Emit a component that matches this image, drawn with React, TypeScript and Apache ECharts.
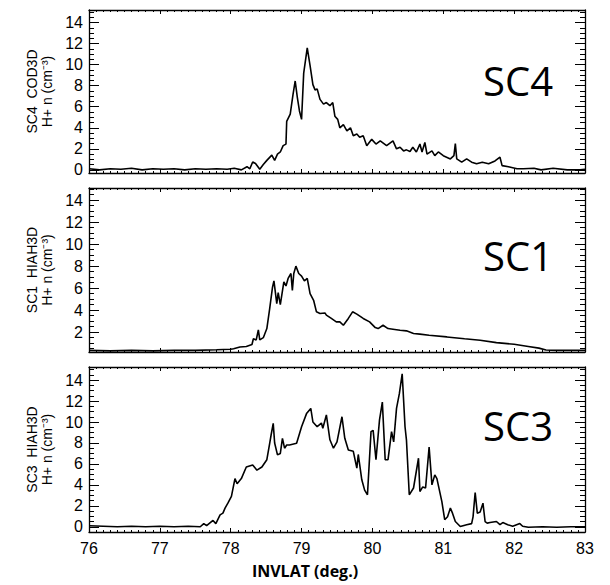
import React, { useEffect, useRef } from "react";
import * as echarts from "echarts";

// ---- data ----
const xTicks = [76, 77, 78, 79, 80, 81, 82, 83];

const sc4Lat = [76.0, 76.15, 76.3, 76.45, 76.6, 76.75, 76.9, 77.05, 77.2, 77.35, 77.5, 77.65, 77.8, 77.95, 78.05, 78.15, 78.23, 78.27, 78.31, 78.35, 78.41, 78.46, 78.51, 78.58, 78.62, 78.66, 78.7, 78.74, 78.78, 78.79, 78.84, 78.88, 78.91, 78.94, 78.97, 79.0, 79.03, 79.08, 79.12, 79.16, 79.19, 79.22, 79.26, 79.31, 79.35, 79.4, 79.44, 79.47, 79.51, 79.54, 79.59, 79.64, 79.69, 79.73, 79.78, 79.82, 79.87, 79.92, 79.99, 80.05, 80.11, 80.2, 80.29, 80.34, 80.39, 80.44, 80.48, 80.53, 80.57, 80.62, 80.67, 80.7, 80.74, 80.77, 80.84, 80.88, 80.93, 81.0, 81.1, 81.15, 81.17, 81.19, 81.26, 81.33, 81.4, 81.47, 81.55, 81.64, 81.73, 81.8, 81.83, 81.92, 82.04, 82.13, 82.28, 82.38, 82.55, 82.75, 82.93, 83.0];
const sc4Dens = [0.1, 0.0, 0.1, 0.05, 0.15, 0.0, 0.1, 0.05, 0.1, 0.0, 0.1, 0.05, 0.1, 0.05, 0.15, 0.0, 0.3, 0.1, 0.75, 0.6, 0.05, 0.5, 0.9, 1.4, 0.9, 1.5, 1.7, 2.3, 2.45, 4.6, 5.3, 7.2, 8.45, 6.9, 5.6, 4.8, 9.2, 11.6, 9.9, 8.1, 7.6, 7.7, 6.7, 6.25, 6.4, 6.1, 6.4, 5.1, 4.8, 4.0, 4.3, 3.7, 4.0, 3.25, 3.4, 3.1, 3.25, 2.3, 2.9, 2.45, 2.75, 2.3, 2.75, 2.0, 2.15, 1.8, 1.9, 1.75, 2.15, 1.7, 2.45, 1.7, 2.6, 1.5, 1.8, 1.35, 1.7, 1.35, 1.04, 1.35, 2.5, 1.04, 0.73, 1.04, 0.73, 0.57, 0.73, 0.57, 0.85, 1.2, 0.4, 0.3, 0.1, 0.1, 0.15, 0.0, 0.15, 0.0, 0.0, 0.05];

const sc1Lat = [76.0, 76.3, 76.6, 76.9, 77.2, 77.5, 77.8, 78.0, 78.04, 78.13, 78.22, 78.3, 78.32, 78.36, 78.39, 78.41, 78.46, 78.51, 78.55, 78.59, 78.61, 78.65, 78.67, 78.7, 78.75, 78.78, 78.81, 78.85, 78.87, 78.89, 78.92, 78.96, 79.0, 79.04, 79.08, 79.12, 79.17, 79.21, 79.26, 79.33, 79.35, 79.42, 79.49, 79.54, 79.59, 79.66, 79.72, 79.78, 79.87, 79.96, 80.04, 80.08, 80.15, 80.22, 80.29, 80.39, 80.48, 80.58, 80.67, 80.8, 81.05, 81.3, 81.52, 81.75, 82.0, 82.2, 82.35, 82.45, 82.6, 82.8, 83.0];
const sc1Dens = [0.35, 0.3, 0.35, 0.3, 0.35, 0.35, 0.4, 0.45, 0.5, 0.66, 0.7, 0.88, 1.4, 1.3, 2.2, 1.3, 1.5, 2.33, 4.15, 6.1, 6.66, 4.6, 5.6, 4.5, 6.57, 6.2, 6.88, 7.33, 5.8, 7.33, 8.0, 7.33, 7.1, 6.66, 6.88, 5.5, 4.9, 3.85, 3.7, 3.75, 3.55, 3.25, 2.94, 2.94, 2.63, 3.25, 3.85, 3.64, 3.25, 2.94, 2.42, 2.33, 2.63, 2.33, 2.27, 2.18, 2.12, 1.88, 1.82, 1.72, 1.57, 1.4, 1.27, 1.05, 0.9, 0.7, 0.55, 0.38, 0.35, 0.35, 0.35];

const sc3Lat = [76.0, 76.2, 76.4, 76.6, 76.8, 77.0, 77.2, 77.4, 77.57, 77.62, 77.66, 77.75, 77.79, 77.85, 77.89, 77.92, 77.96, 78.01, 78.06, 78.09, 78.15, 78.22, 78.31, 78.37, 78.44, 78.51, 78.55, 78.57, 78.6, 78.62, 78.66, 78.7, 78.73, 78.76, 78.79, 78.83, 78.93, 79.0, 79.07, 79.13, 79.16, 79.22, 79.28, 79.3, 79.35, 79.4, 79.45, 79.5, 79.57, 79.61, 79.66, 79.73, 79.78, 79.8, 79.85, 79.89, 79.93, 79.98, 80.01, 80.05, 80.1, 80.14, 80.18, 80.22, 80.27, 80.3, 80.34, 80.38, 80.42, 80.46, 80.48, 80.52, 80.58, 80.65, 80.67, 80.71, 80.75, 80.8, 80.84, 80.88, 80.91, 80.98, 81.02, 81.06, 81.1, 81.13, 81.17, 81.24, 81.33, 81.4, 81.42, 81.45, 81.48, 81.52, 81.56, 81.59, 81.62, 81.66, 81.75, 81.8, 81.84, 81.91, 81.98, 82.08, 82.12, 82.2, 82.4, 82.6, 82.8, 83.0];
const sc3Dens = [0.1, 0.05, 0.0, 0.05, 0.0, 0.05, 0.0, 0.05, 0.0, 0.3, 0.1, 0.6, 0.3, 1.14, 1.3, 1.78, 2.25, 2.9, 4.6, 4.1, 4.6, 5.7, 5.9, 5.4, 5.7, 6.4, 7.97, 8.76, 9.87, 8.0, 6.86, 7.0, 8.44, 7.5, 7.8, 7.8, 7.97, 9.55, 10.8, 11.3, 10.0, 9.55, 9.9, 9.4, 10.67, 8.3, 7.5, 8.1, 10.5, 8.44, 7.33, 7.2, 5.6, 6.9, 4.48, 3.5, 3.05, 9.08, 9.2, 6.4, 10.2, 11.9, 6.4, 6.4, 9.08, 8.1, 11.3, 12.7, 14.6, 9.55, 8.3, 3.05, 3.7, 6.54, 3.36, 3.8, 3.7, 7.6, 4.0, 4.95, 4.6, 2.4, 0.67, 0.95, 1.78, 1.3, 0.5, 0.03, 0.2, 0.3, 0.95, 3.27, 1.3, 1.4, 2.25, 0.5, 0.35, 0.4, 0.5, 0.2, 0.4, 0.2, 0.05, 0.3, 0.05, -0.05, 0.0, -0.05, 0.0, 0.0];

const panelNames = ["SC4  COD3D\nH+ n (cm\u207B\u00B3)", "SC1  HIAH3D\nH+ n (cm\u207B\u00B3)", "SC3  HIAH3D\nH+ n (cm\u207B\u00B3)"];
const panelTags = ["SC4", "SC1", "SC3"];
const yMins = [-0.3, 0.2, -0.5];
const yMaxs = [15.2, 15.1, 15.25];
const xTitle = "INVLAT (deg.)";

const grids = [
  { top: 10, height: 163 },
  { top: 188, height: 164 },
  { top: 367, height: 165 },
];
const tagY = [86, 261, 431];

export default function App() {
  const ref = useRef<HTMLDivElement>(null);
  useEffect(() => {
    if (!ref.current) return;
    const chart = echarts.init(ref.current, undefined, { renderer: "svg" });
    const black = "#000";
    const xAxes: any[] = [];
    const yAxes: any[] = [];
    const series: any[] = [];
    const lats = [sc4Lat, sc1Lat, sc3Lat];
    const dens = [sc4Dens, sc1Dens, sc3Dens];
    for (let i = 0; i < 3; i++) {
      for (const pos of ["bottom", "top"]) {
        xAxes.push({
          type: "value",
          gridIndex: i,
          position: pos,
          min: xTicks[0],
          max: xTicks[xTicks.length - 1],
          interval: 1,
          axisLine: { show: true, onZero: false, lineStyle: { color: black, width: 1.3 } },
          axisTick: { show: true, inside: true, length: 4, lineStyle: { color: black, width: 1 } },
          minorTick: { show: true, splitNumber: 10, length: 2, lineStyle: { color: black, width: 1 } },
          splitLine: { show: false },
          axisLabel: {
            show: i === 2 && pos === "bottom",
            color: black,
            fontSize: 16,
            fontFamily: "Liberation Sans",
            margin: 8,
          },
        });
      }
      for (const pos of ["left", "right"]) {
        yAxes.push({
          type: "value",
          gridIndex: i,
          position: pos,
          min: yMins[i],
          max: yMaxs[i],
          splitNumber: 7,
          minInterval: 2,
          maxInterval: 2,
          axisLine: { show: true, onZero: false, lineStyle: { color: black, width: 1.3 } },
          axisTick: { show: true, inside: true, length: 10, lineStyle: { color: black, width: 1 } },
          minorTick: { show: true, splitNumber: 4, length: 5, lineStyle: { color: black, width: 1 } },
          splitLine: { show: false },
          axisLabel: {
            show: pos === "left",
            color: black,
            fontSize: 16,
            fontFamily: "Liberation Sans",
            margin: 6,
            formatter: (v: number) => {
              const r = Math.round(v);
              return Math.abs(v - r) < 1e-6 && r % 2 === 0 ? String(r) : "";
            },
          },
          name: pos === "left" ? panelNames[i] : "",
          nameLocation: "middle",
          nameRotate: 90,
          nameGap: 34,
          nameTextStyle: {
            color: black,
            fontSize: 14,
            lineHeight: 15,
            fontFamily: "Liberation Sans",
            align: "center",
          },
        });
      }
      series.push({
        type: "line",
        xAxisIndex: 2 * i,
        yAxisIndex: 2 * i,
        showSymbol: false,
        symbol: "none",
        data: lats[i].map((x, k) => [x, dens[i][k]]),
        lineStyle: { color: black, width: 1.6 },
        clip: true,
      });
    }
    chart.setOption({
      animation: false,
      backgroundColor: "#fff",
      grid: grids.map((g) => ({ left: 89, right: 25, top: g.top, height: g.height, containLabel: false })),
      xAxis: xAxes,
      yAxis: yAxes,
      series,
      graphic: [
        ...panelTags.map((t, i) => ({
          type: "text",
          left: 483,
          top: tagY[i] - 26,
          style: { text: t, fontSize: 40, fontFamily: "Open Sans", fill: black },
        })),
        {
          type: "text",
          left: "center",
          top: 563,
          x: 0,
          style: {
            text: xTitle,
            fontSize: 16,
            fontWeight: "bold",
            fontFamily: "Open Sans",
            fill: black,
          },
        },
      ],
    });
    return () => chart.dispose();
  }, []);
  return (
    <div
      ref={ref}
      style={{ position: "fixed", left: 0, top: 0, width: 610, height: 585, background: "#fff" }}
    />
  );
}
